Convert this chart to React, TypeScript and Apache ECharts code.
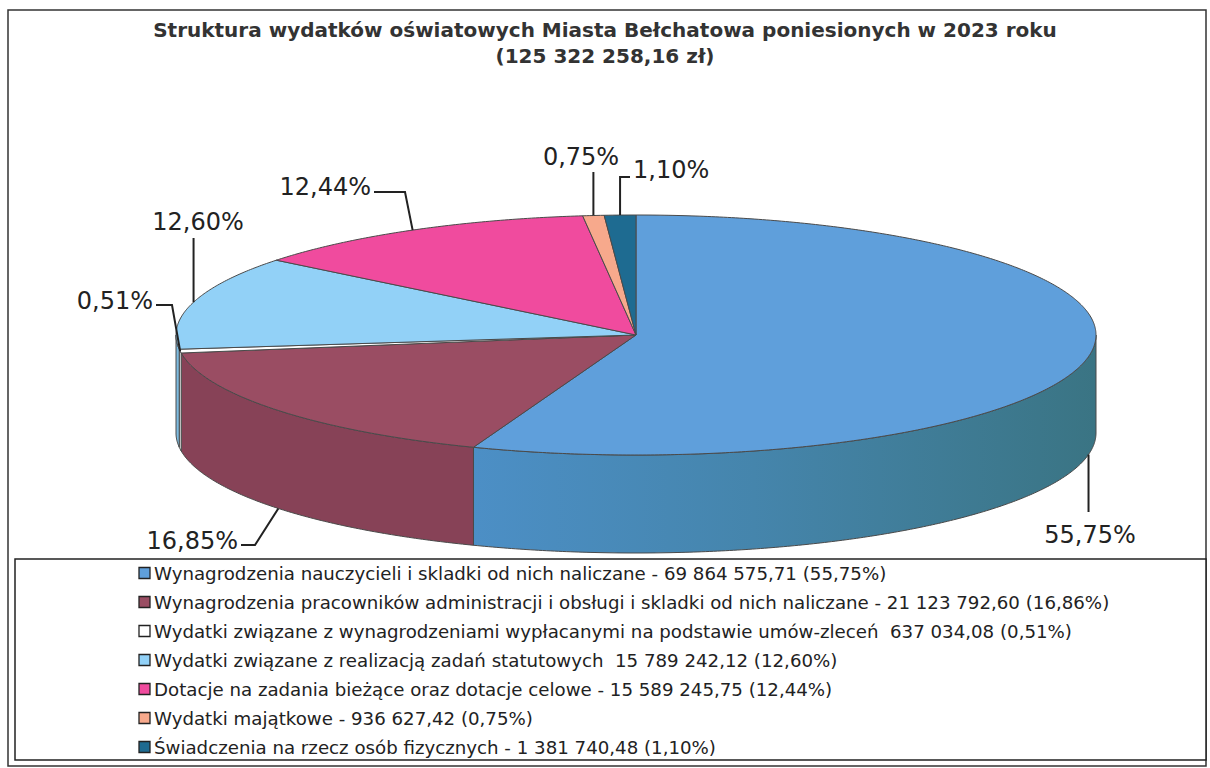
import React, { useEffect, useRef } from 'react';
import * as echarts from 'echarts';

// ---------- data ----------
const titleLine1 = 'Struktura wydatków oświatowych Miasta Bełchatowa poniesionych w 2023 roku';
const titleLine2 = '(125 322 258,16 zł)';

const categories = [
  'Wynagrodzenia nauczycieli i skladki od nich naliczane',
  'Wynagrodzenia pracowników administracji i obsługi i skladki od nich naliczane',
  'Wydatki związane z wynagrodzeniami wypłacanymi na podstawie umów-zleceń',
  'Wydatki związane z realizacją zadań statutowych',
  'Dotacje na zadania bieżące oraz dotacje celowe',
  'Wydatki majątkowe',
  'Świadczenia na rzecz osób fizycznych',
];
const values = [69864575.71, 21123792.6, 637034.08, 15789242.12, 15589245.75, 936627.42, 1381740.48];
const amountTexts = ['69 864 575,71', '21 123 792,60', '637 034,08', '15 789 242,12', '15 589 245,75', '936 627,42', '1 381 740,48'];
const legendPercents = ['55,75%', '16,86%', '0,51%', '12,60%', '12,44%', '0,75%', '1,10%'];
const legendSeparators = [' - ', ' - ', '  ', '  ', ' - ', ' - ', ' - '];
const sliceLabels = ['55,75%', '16,85%', '0,51%', '12,60%', '12,44%', '0,75%', '1,10%'];

// ---------- style ----------
const topColors = ['#5F9FDB', '#9A4D63', '#FFFFFF', '#92D1F7', '#F04B9E', '#F7A98C', '#1E6B91'];
const sideColors = ['#4A89B8', '#874257', '#EEEEEE', '#7DBBE0', '#C93C84', '#D88B70', '#17587A'];
const FONT = '"DejaVu Sans", Verdana, sans-serif';
const CX = 636, CY = 335, RX = 460, RY = 120, DEPTH = 98;

// label layout (text placement and leader elbows; NaN x = same x as anchor)
const labelLayout = [
  { dy: DEPTH, elbows: [[NaN, 512]], tx: 1090, ty: 535, align: 'center' },
  { dy: DEPTH, elbows: [[255, 545], [241, 545]], tx: 238, ty: 541, align: 'right' },
  { dy: 0, elbows: [[172, 305], [156, 305]], tx: 153, ty: 301, align: 'right' },
  { dy: 0, elbows: [[NaN, 238]], tx: 198, ty: 222, align: 'center' },
  { dy: 0, elbows: [[405, 192], [374, 192]], tx: 371, ty: 187, align: 'right' },
  { dy: 0, elbows: [[NaN, 172]], tx: 581, ty: 157, align: 'center' },
  { dy: 0, elbows: [[NaN, 177], [630, 177]], tx: 633, ty: 170, align: 'left' },
];

const total = values.reduce((a, b) => a + b, 0);
const startAngles: number[] = [];
const endAngles: number[] = [];
{
  let acc = 0;
  values.forEach((v) => {
    startAngles.push((acc / total) * Math.PI * 2);
    acc += v;
    endAngles.push((acc / total) * Math.PI * 2);
  });
}

function pt(theta: number, dy = 0): number[] {
  return [CX + RX * Math.sin(theta), CY - RY * Math.cos(theta) + dy];
}
function arc(a: number, b: number, dy: number): number[][] {
  const n = Math.max(2, Math.ceil(Math.abs(b - a) / (Math.PI / 360)));
  const out: number[][] = [];
  for (let k = 0; k <= n; k++) out.push(pt(a + ((b - a) * k) / n, dy));
  return out;
}

export default function App() {
  const ref = useRef<HTMLDivElement>(null);
  useEffect(() => {
    document.body.style.margin = '0';
    const chart = echarts.init(ref.current!, null, { renderer: 'svg' });

    const blueSide = new echarts.graphic.LinearGradient(470, 0, 1100, 0, [
      { offset: 0, color: '#4C8FC6' },
      { offset: 0.45, color: '#4585AC' },
      { offset: 1, color: '#3A7483' },
    ], true);

    const sideItem = (params: any) => {
      const i = params.dataIndex;
      const a = Math.max(startAngles[i], Math.PI / 2);
      const b = Math.min(endAngles[i], (Math.PI * 3) / 2);
      if (b <= a) return null;
      const pts = arc(a, b, 0).concat(arc(b, a, DEPTH));
      return {
        type: 'polygon',
        shape: { points: pts },
        style: { fill: i === 0 ? blueSide : sideColors[i], stroke: '#4a4a4a', lineWidth: 1 },
      };
    };
    const topItem = (params: any) => {
      const i = params.dataIndex;
      const pts = [[CX, CY]].concat(arc(startAngles[i], endAngles[i], 0));
      return {
        type: 'polygon',
        shape: { points: pts },
        style: { fill: topColors[i], stroke: '#4a4a4a', lineWidth: 1 },
      };
    };
    const labelItem = (params: any) => {
      const i = params.dataIndex;
      const L = labelLayout[i];
      const mid = (startAngles[i] + endAngles[i]) / 2;
      const anchor = pt(mid, L.dy);
      const line = [anchor].concat(L.elbows.map((e) => [isNaN(e[0]) ? anchor[0] : e[0], e[1]]));
      return {
        type: 'group',
        children: [
          { type: 'polyline', shape: { points: line }, style: { stroke: '#222', lineWidth: 2, fill: 'none' } },
          {
            type: 'text',
            style: {
              text: sliceLabels[i], x: L.tx, y: L.ty, fill: '#222',
              fontSize: 24, fontFamily: FONT,
              align: L.align, textAlign: L.align, verticalAlign: 'middle', textVerticalAlign: 'middle',
            },
          },
        ],
      };
    };

    const legendGraphics: any[] = [];
    categories.forEach((c, i) => {
      const y = 573 + i * 29;
      legendGraphics.push({
        type: 'rect', shape: { x: 139, y: y - 5.5, width: 11, height: 11 },
        style: { fill: topColors[i], stroke: '#222', lineWidth: 1.3 },
      });
      legendGraphics.push({
        type: 'text', x: 154, y,
        style: {
          text: `${c}${legendSeparators[i]}${amountTexts[i]} (${legendPercents[i]})`,
          fill: '#222', fontSize: 18.2, fontFamily: FONT, textVerticalAlign: 'middle', verticalAlign: 'middle',
        },
      });
    });

    chart.setOption({
      animation: false,
      backgroundColor: '#fff',
      title: {
        text: titleLine1 + '\n' + titleLine2,
        left: 'center',
        top: 12,
        textStyle: { fontSize: 20, fontWeight: 'bold', color: '#333', fontFamily: FONT, lineHeight: 26, align: 'center' },
      },
      graphic: [
        { type: 'rect', shape: { x: 8, y: 10, width: 1198, height: 756 }, style: { fill: 'none', stroke: '#333', lineWidth: 1.5 }, z: -1 },
        { type: 'rect', shape: { x: 15, y: 559, width: 1191, height: 201 }, style: { fill: '#fff', stroke: '#222', lineWidth: 1.5 } },
        ...legendGraphics,
      ],
      series: [
        { type: 'custom', coordinateSystem: 'none', data: values, renderItem: sideItem, silent: true },
        { type: 'custom', coordinateSystem: 'none', data: values, renderItem: topItem, silent: true },
        { type: 'custom', coordinateSystem: 'none', data: values, renderItem: labelItem, silent: true },
      ],
    });
    return () => chart.dispose();
  }, []);
  return <div ref={ref} style={{ width: 1210, height: 768 }} />;
}
